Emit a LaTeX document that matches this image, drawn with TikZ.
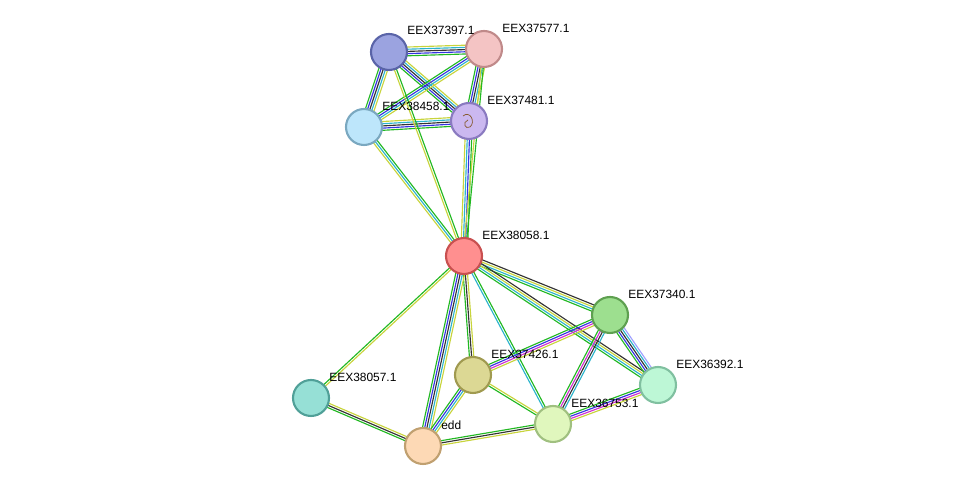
\documentclass[tikz,border=0pt]{standalone}
\usepackage{fontspec}
\setmainfont{Liberation Sans}
\usetikzlibrary{calc}
\definecolor{eg}{HTML}{22B822}
\definecolor{ey}{HTML}{C8D43C}
\definecolor{eb}{HTML}{3434E0}
\definecolor{ek}{HTML}{333333}
\definecolor{ec}{HTML}{2CB4CC}
\definecolor{em}{HTML}{D030D0}
\definecolor{eh}{HTML}{A0A0FF}
\newcommand\ed[4]{%
\foreach \cc [count=\ii] in {#4}{\pgfmathsetmacro\off{(\ii-(#3+1)/2)*1.25}
\draw[\cc,line width=0.65pt] ($(#1)!\off pt!90:(#2)$) -- ($(#2)!\off pt!-90:(#1)$);}}
\tikzset{prot/.style={circle,minimum size=0.72cm,inner sep=0pt,line width=1.2pt},
lab/.style={anchor=west,inner sep=0pt,font=\fontsize{6.8}{8}\selectfont}}
\begin{document}
\begin{tikzpicture}[x=0.02cm,y=-0.02cm]
\useasboundingbox (0,0) rectangle (975,492);
\coordinate (a) at (389,52);
\coordinate (b) at (484,49);
\coordinate (c) at (364,127);
\coordinate (d) at (469,121);
\coordinate (e) at (464,256);
\coordinate (f) at (610,315);
\coordinate (g) at (658,385);
\coordinate (h) at (473,375);
\coordinate (i) at (553,424);
\coordinate (j) at (311,398);
\coordinate (k) at (423,446);
\ed{a}{b}{5}{eg,eb,ek,ec,ey}
\ed{a}{c}{5}{eg,eb,ek,ec,ey}
\ed{a}{d}{5}{eg,eb,ek,ec,ey}
\ed{b}{c}{4}{eg,eb,ec,ey}
\ed{b}{d}{5}{eg,eb,ek,ec,ey}
\ed{c}{d}{5}{eg,eb,ek,ec,ey}
\ed{e}{a}{2}{eg,ey}
\ed{e}{c}{3}{eg,ec,ey}
\ed{e}{d}{4}{eg,eb,ec,ey}
\ed{e}{b}{2}{eg,ey}
\ed{e}{f}{4}{eg,ec,ey,ek}
\ed{e}{g}{4}{eg,ec,ey,ek}
\ed{e}{h}{3}{eg,ek,ey}
\ed{e}{i}{2}{ec,eg}
\ed{e}{j}{2}{eg,ey}
\ed{e}{k}{5}{eg,eb,ek,ec,ey}
\ed{f}{h}{4}{eg,eb,em,ey}
\ed{f}{g}{5}{eg,eb,ek,ec,eh}
\ed{f}{i}{4}{eg,em,ek,ec}
\ed{h}{i}{2}{eg,ey}
\ed{h}{k}{4}{eg,eb,ec,ey}
\ed{g}{i}{4}{eg,eb,em,ey}
\ed{i}{k}{3}{eg,ek,ey}
\ed{j}{k}{3}{eg,ek,ey}
\node[prot,fill={rgb,255:red,155;green,163;blue,224},draw={rgb,255:red,90;green,100;blue,168}] (A) at (a) {};
\node[prot,fill={rgb,255:red,244;green,196;blue,196},draw={rgb,255:red,192;green,138;blue,138}] (B) at (b) {};
\node[prot,fill={rgb,255:red,189;green,230;blue,251},draw={rgb,255:red,122;green,168;blue,192}] (C) at (c) {};
\node[prot,fill={rgb,255:red,203;green,184;blue,240},draw={rgb,255:red,138;green,122;blue,192}] (D) at (d) {};
\node[prot,fill={rgb,255:red,255;green,143;blue,143},draw={rgb,255:red,200;green,80;blue,80}] (E) at (e) {};
\node[prot,fill={rgb,255:red,157;green,223;blue,143},draw={rgb,255:red,94;green,160;blue,80}] (F) at (f) {};
\node[prot,fill={rgb,255:red,189;green,247;blue,214},draw={rgb,255:red,128;green,192;blue,160}] (G) at (g) {};
\node[prot,fill={rgb,255:red,220;green,216;blue,148},draw={rgb,255:red,160;green,154;blue,80}] (H) at (h) {};
\node[prot,fill={rgb,255:red,224;green,247;blue,189},draw={rgb,255:red,160;green,192;blue,128}] (I) at (i) {};
\node[prot,fill={rgb,255:red,150;green,224;blue,214},draw={rgb,255:red,80;green,160;blue,152}] (J) at (j) {};
\node[prot,fill={rgb,255:red,253;green,217;blue,181},draw={rgb,255:red,192;green,160;blue,112}] (K) at (k) {};
\draw[brown!70!black,line width=0.4pt] (463,116) .. controls (470,110) and (476,122) .. (470,127) .. controls (465,130) and (462,122) .. (468,120);
\node[lab] (la) at ($(a)+(18,-22)$) {EEX37397.1};
\node[lab] (lb) at ($(b)+(18,-21)$) {EEX37577.1};
\node[lab] (lc) at ($(c)+(18,-21)$) {EEX38458.1};
\node[lab] (ld) at ($(d)+(18,-21)$) {EEX37481.1};
\node[lab] (le) at ($(e)+(18,-21)$) {EEX38058.1};
\node[lab] (lf) at ($(f)+(18,-21)$) {EEX37340.1};
\node[lab] (lg) at ($(g)+(18,-21)$) {EEX36392.1};
\node[lab] (lh) at ($(h)+(18,-21)$) {EEX37426.1};
\node[lab] (li) at ($(i)+(18,-21)$) {EEX36753.1};
\node[lab] (lj) at ($(j)+(18,-21)$) {EEX38057.1};
\node[lab] (lk) at ($(k)+(18,-21)$) {edd};
\end{tikzpicture}
\end{document}
